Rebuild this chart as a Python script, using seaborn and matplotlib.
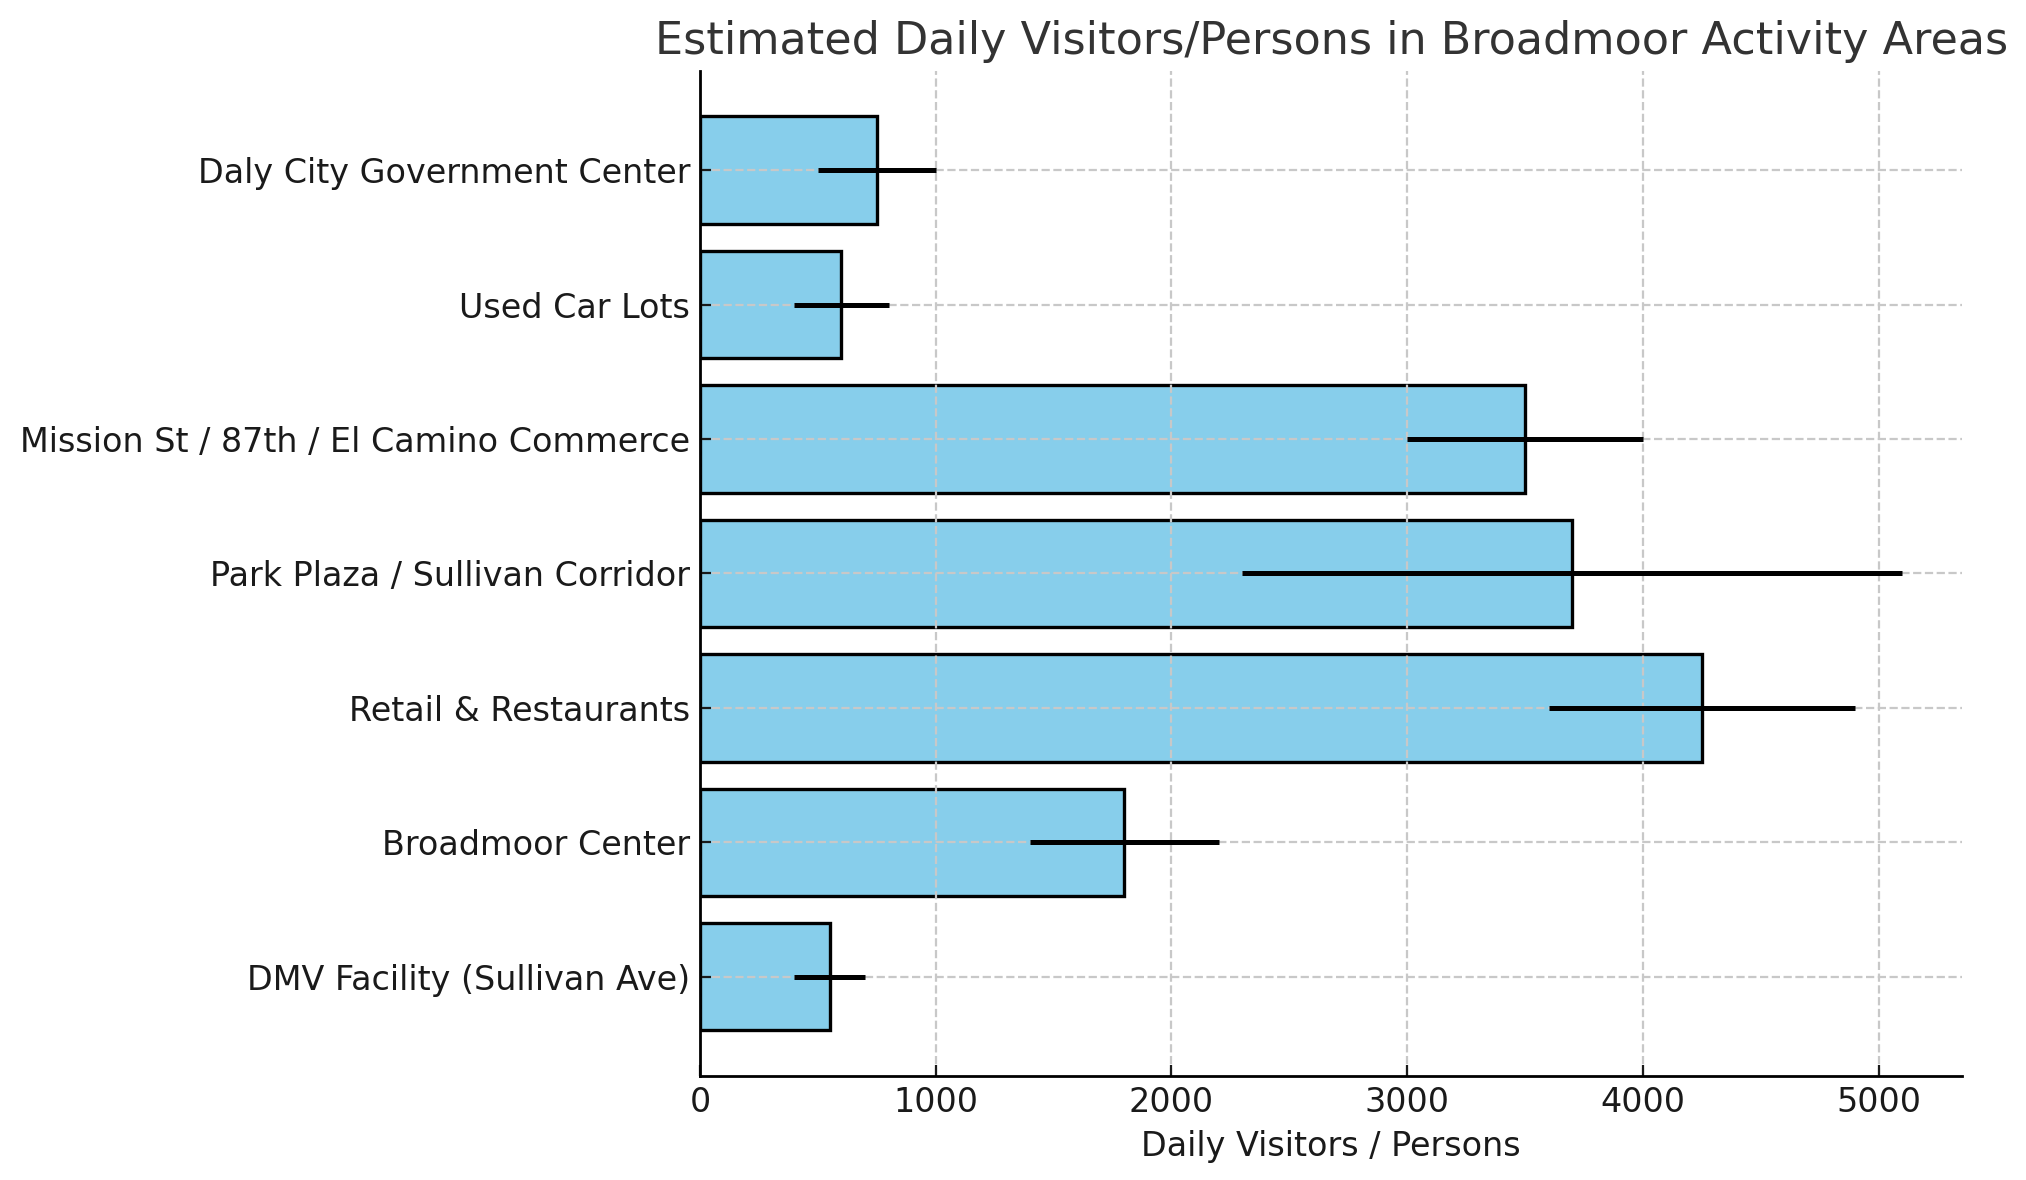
import matplotlib
matplotlib.use("Agg")
import matplotlib.pyplot as plt
import seaborn as sns
import numpy as np

# data, listed bottom to top as in the picture
areas = [
    "DMV Facility (Sullivan Ave)",
    "Broadmoor Center",
    "Retail & Restaurants",
    "Park Plaza / Sullivan Corridor",
    "Mission St / 87th / El Camino Commerce",
    "Used Car Lots",
    "Daly City Government Center",
]
visitors = [550, 1800, 4250, 3700, 3500, 600, 750]
low = [400, 1400, 3600, 2300, 3000, 400, 500]
high = [700, 2200, 4900, 5100, 4000, 800, 1000]

# seaborn puts the first category on top, so reverse
order = areas[::-1]

fig, ax = plt.subplots(figsize=(10.13, 5.9), dpi=200)
fig.subplots_adjust(left=0.3455, right=0.9685, bottom=0.088, top=0.94)

sns.barplot(x=visitors, y=areas, order=order, orient="h", color="skyblue",
            saturation=1, edgecolor="black", linewidth=1.2, width=0.8, ax=ax)

# error bars (symmetric around the estimate)
pos = [order.index(a) for a in areas]
err = (np.array(high) - np.array(low)) / 2
ax.errorbar(visitors, pos, xerr=err, fmt="none", ecolor="black",
            elinewidth=1.8, capsize=0, zorder=3)

ax.set_ylim(len(areas) - 1 + 0.74, -0.74)
ax.set_xlim(0, 5100 * 1.05)

ax.set_axisbelow(False)
ax.grid(True, linestyle="--", color="#c8c8c8", linewidth=0.8)
for g in ax.get_xgridlines() + ax.get_ygridlines():
    g.set_zorder(1.5)

ax.spines["top"].set_visible(False)
ax.spines["right"].set_visible(False)
for s in ["left", "bottom"]:
    ax.spines[s].set_color("black")
    ax.spines[s].set_linewidth(1.0)
    ax.spines[s].set_zorder(4)

ax.tick_params(axis="both", direction="in", labelsize=12, colors="#1a1a1a", length=4)
ax.set_xlabel("Daily Visitors / Persons", fontsize=12, color="#1a1a1a")
ax.set_ylabel("")
ax.set_title("Estimated Daily Visitors/Persons in Broadmoor Activity Areas",
             fontsize=16, color="#333333")

fig.savefig("out.png", dpi=200)
